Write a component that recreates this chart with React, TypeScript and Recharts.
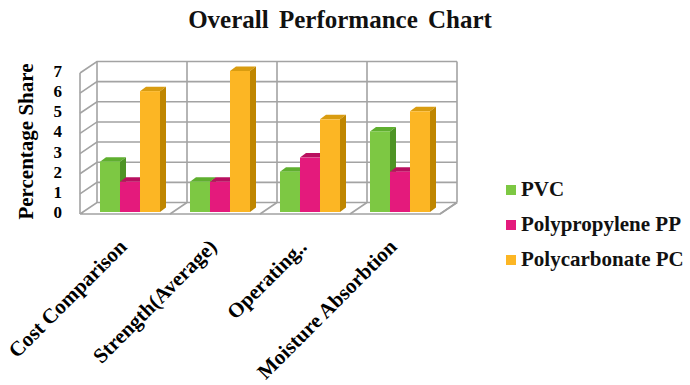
import React from 'react';
import { BarChart, Bar, XAxis, YAxis, CartesianGrid } from 'recharts';

const categories = ['Cost Comparison', 'Strength(Average)', 'Operating..', 'Moisture Absorbtion'];
const pvcValues = [2.5, 1.5, 2, 4];
const ppValues = [1.5, 1.5, 2.7, 2];
const pcValues = [6, 7, 4.6, 5];
const yTicks = [0, 1, 2, 3, 4, 5, 6, 7];
const seriesNames = ['PVC', 'Polypropylene PP', 'Polycarbonate PC'];

const data = categories.map((name, i) => ({
  name,
  pvc: pvcValues[i],
  pp: ppValues[i],
  pc: pcValues[i],
}));

const FONT = "'Liberation Serif', 'Times New Roman', serif";
const GRID = '#a3a3a3';

// depth offsets: bar plane -> front edge of floor / back wall
const FX = -5;
const FY = 2;
const BX = 12;
const BY = -9.5;
// bar top/side depth
const DX = 6;
const DY = 4.5;

const colors = [
  { front: '#7dc843', top: '#5faf2f', side: '#4e9425' },
  { front: '#e41a7c', top: '#b8105f', side: '#a30c54' },
  { front: '#fcb624', top: '#d99c10', side: '#bf8600' },
];

const make3DBar = (c: { front: string; top: string; side: string }) => (props: any) => {
  const { x, y, width, height } = props;
  if (!height || height <= 0) return <g />;
  const b = y + height;
  const r = x + width;
  return (
    <g>
      <path d={`M${x},${y} L${x + DX},${y - DY} L${r + DX},${y - DY} L${r},${y} Z`} fill={c.top} />
      <path d={`M${r},${y} L${r + DX},${y - DY} L${r + DX},${b - DY} L${r},${b} Z`} fill={c.side} />
      <rect x={x} y={y} width={width} height={height} fill={c.front} />
    </g>
  );
};

// horizontal lines run along the left wall and the back wall; the lowest one also outlines the floor
const renderHorizontal = (props: any) => {
  const { x1, x2, y1, index, horizontalPoints } = props;
  const pts: number[] = horizontalPoints || [];
  const isFloor = pts.length ? y1 === Math.max(...pts) : index === 0;
  let d = `M${x1 + FX},${y1 + FY} L${x1 + BX},${y1 + BY} L${x2 + BX},${y1 + BY}`;
  if (isFloor) d += ` M${x1 + FX},${y1 + FY} L${x2 + FX},${y1 + FY} L${x2 + BX},${y1 + BY}`;
  return <path key={`h-${index}`} d={d} stroke={GRID} strokeWidth={1.6} fill="none" />;
};

// vertical lines sit on category boundaries, plus the matching diagonals on the floor
const renderVertical = (props: any) => {
  const { x1, y1, y2, index, verticalPoints } = props;
  if (index >= categories.length) return <g key={`v-${index}`} />;
  const pts: number[] = verticalPoints || [];
  const bw = pts.length > 1 ? Math.abs(pts[1] - pts[0]) : 90;
  const top = Math.min(y1, y2);
  const bottom = Math.max(y1, y2);
  const xb = x1 + bw / 2;
  let d = `M${xb + BX},${top + BY} L${xb + BX},${bottom + BY} M${xb + FX},${bottom + FY} L${xb + BX},${bottom + BY}`;
  if (index === 0) {
    const xl = x1 - bw / 2;
    d += ` M${xl + BX},${top + BY} L${xl + BX},${bottom + BY} M${xl + FX},${top + FY} L${xl + FX},${bottom + FY}`;
  }
  return <path key={`v-${index}`} d={d} stroke={GRID} strokeWidth={1.6} fill="none" />;
};

const XTick = (props: any) => {
  const { x, y, payload } = props;
  const tx = x - 2;
  const ty = y + 36;
  return (
    <text
      x={tx}
      y={ty}
      transform={`rotate(-45, ${tx}, ${ty})`}
      textAnchor="end"
      fill="#000"
      fontFamily={FONT}
      fontWeight="bold"
      fontSize={21}
    >
      {payload.value}
    </text>
  );
};

const App: React.FC = () => {
  return (
    <div style={{ position: 'absolute', left: 0, top: 0, width: 690, height: 385, background: '#fff' }}>
      <div
        style={{
          position: 'absolute',
          left: 0,
          top: 7,
          width: 680,
          textAlign: 'center',
          fontFamily: FONT,
          fontWeight: 'bold',
          fontSize: 25,
          lineHeight: '25px',
          wordSpacing: 4,
          color: '#111',
        }}
      >
        Overall Performance Chart
      </div>

      <BarChart
        width={690}
        height={385}
        data={data}
        margin={{ top: 71, right: 245, bottom: 0, left: 0 }}
        barCategoryGap={15}
        barGap={0}
      >
        <CartesianGrid horizontal={renderHorizontal} vertical={renderVertical} />
        <XAxis
          dataKey="name"
          height={173}
          interval={0}
          axisLine={false}
          tickLine={false}
          tickSize={0}
          tickMargin={0}
          tick={<XTick />}
        />
        <YAxis
          width={85}
          domain={[0, 7]}
          ticks={yTicks}
          interval={0}
          axisLine={false}
          tickLine={false}
          tickSize={0}
          tickMargin={23}
          tick={{ fill: '#000', fontSize: 17, fontWeight: 'bold', fontFamily: FONT }}
          label={{
            value: 'Percentage Share',
            angle: -90,
            position: 'center',
            dx: -17,
            fill: '#000',
            fontSize: 21,
            fontWeight: 'bold',
            fontFamily: FONT,
          }}
        />
        <Bar dataKey="pvc" name={seriesNames[0]} fill={colors[0].front} shape={make3DBar(colors[0])} isAnimationActive={false} />
        <Bar dataKey="pp" name={seriesNames[1]} fill={colors[1].front} shape={make3DBar(colors[1])} isAnimationActive={false} />
        <Bar dataKey="pc" name={seriesNames[2]} fill={colors[2].front} shape={make3DBar(colors[2])} isAnimationActive={false} />
      </BarChart>

      <div style={{ position: 'absolute', left: 506, top: 172, fontFamily: FONT, fontWeight: 'bold', fontSize: 21, color: '#111' }}>
        {seriesNames.map((n, i) => (
          <div key={n} style={{ display: 'flex', alignItems: 'center', height: 35, whiteSpace: 'nowrap' }}>
            <span style={{ display: 'inline-block', width: 10, height: 10, background: colors[i].front, marginRight: 5 }} />
            {n}
          </div>
        ))}
      </div>
    </div>
  );
};

export default App;
